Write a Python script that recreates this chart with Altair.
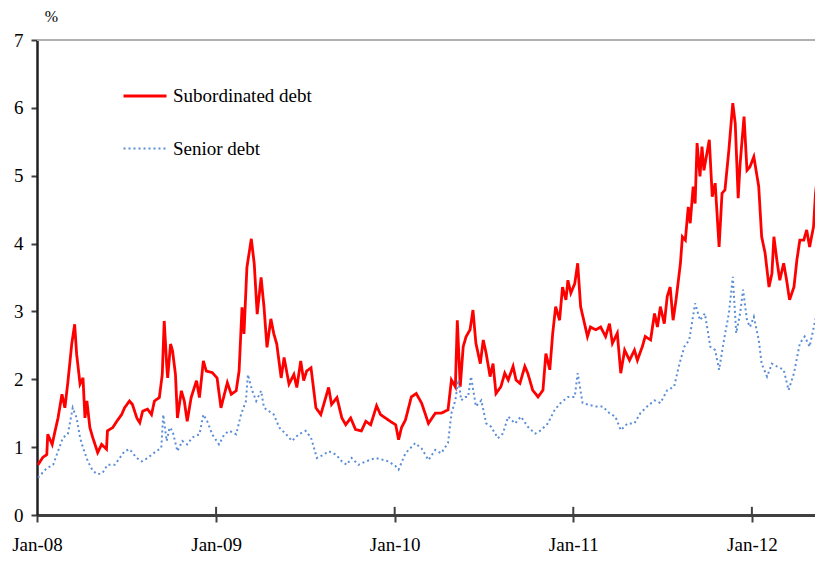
import altair as alt
import pandas as pd

# Subordinated debt: days since 2008-01-01 and spread (%)
sub_days = [2, 12, 20, 22, 31, 37, 43, 51, 57, 63, 71, 77, 81, 88, 94, 98, 102, 108, 114, 124,
            132, 142, 144, 155, 163, 173, 179, 189, 195, 204, 210, 216, 226, 234, 240, 250, 256, 260, 265, 267,
            273, 277, 283, 287, 295, 301, 307, 315, 326, 332, 340, 346, 358, 368, 376, 383, 389, 397, 407, 413,
            419, 423, 429, 438, 444, 450, 458, 464, 470, 478, 484, 490, 499, 505, 515, 525, 531, 539, 545, 551,
            560, 570, 580, 590, 596, 602, 613, 623, 631, 641, 651, 663, 672, 682, 694, 702, 712, 722, 733, 739,
            745, 753, 765, 775, 786, 800, 814, 826, 840, 847, 855, 859, 865, 871, 877, 885, 891, 897, 906, 912,
            918, 926, 932, 938, 948, 956, 963, 973, 979, 987, 997, 1003, 1013, 1024, 1034, 1040, 1048, 1054, 1060, 1068,
            1074, 1081, 1085, 1091, 1099, 1105, 1111, 1119, 1125, 1131, 1142, 1152, 1162, 1170, 1176, 1186, 1193, 1201, 1211, 1221,
            1227, 1237, 1243, 1254, 1262, 1268, 1274, 1282, 1288, 1294, 1300, 1306, 1315, 1319, 1325, 1331, 1335, 1341, 1345, 1349,
            1355, 1359, 1363, 1374, 1380, 1386, 1394, 1400, 1406, 1414, 1422, 1427, 1433, 1437, 1445, 1451, 1457, 1465, 1475, 1481,
            1488, 1496, 1502, 1506, 1512, 1518, 1526, 1532, 1538, 1547, 1553, 1559, 1567, 1573, 1579, 1587, 1591, 1597]
sub_vals = [0.74, 0.85, 0.89, 1.19, 1.04, 1.24, 1.43, 1.78, 1.58, 1.95, 2.52, 2.81, 2.37, 1.93, 2.02, 1.43, 1.68, 1.29, 1.14, 0.92,
            1.04, 0.97, 1.24, 1.29, 1.38, 1.48, 1.58, 1.68, 1.63, 1.43, 1.36, 1.53, 1.56, 1.48, 1.68, 1.73, 2.07, 2.86, 2.22, 2.02,
            2.52, 2.42, 2.07, 1.43, 1.83, 1.68, 1.38, 1.73, 1.98, 1.73, 2.27, 2.12, 2.10, 2.02, 1.58, 1.78, 1.95, 1.78, 1.83, 2.12,
            3.06, 2.67, 3.65, 4.07, 3.70, 2.96, 3.50, 3.06, 2.47, 2.89, 2.67, 2.52, 2.02, 2.32, 1.93, 2.07, 1.88, 2.27, 1.98, 2.12,
            2.17, 1.58, 1.48, 1.73, 1.88, 1.63, 1.73, 1.43, 1.33, 1.43, 1.26, 1.24, 1.38, 1.33, 1.61, 1.48, 1.43, 1.38, 1.33, 1.11,
            1.29, 1.40, 1.74, 1.79, 1.65, 1.35, 1.50, 1.50, 1.55, 1.99, 1.89, 2.87, 1.89, 2.48, 2.63, 2.73, 3.02, 2.53, 2.23, 2.58,
            2.38, 2.04, 2.23, 1.79, 1.89, 2.09, 1.99, 2.19, 1.99, 1.94, 2.19, 2.09, 1.84, 1.74, 1.84, 2.38, 2.14, 2.68, 3.07, 2.87,
            3.36, 3.17, 3.46, 3.27, 3.41, 3.71, 3.07, 2.82, 2.63, 2.77, 2.73, 2.77, 2.63, 2.82, 2.53, 2.68, 2.09, 2.43, 2.28, 2.43,
            2.28, 2.48, 2.63, 2.58, 2.97, 2.77, 3.07, 2.82, 3.22, 3.36, 2.87, 3.17, 3.71, 4.10, 4.05, 4.54, 4.30, 4.84, 4.59, 5.48,
            4.99, 5.43, 5.08, 5.53, 4.69, 4.89, 3.95, 4.74, 4.79, 5.38, 6.07, 5.77, 4.67, 5.18, 5.87, 5.08, 5.13, 5.28, 4.84, 4.10,
            3.86, 3.36, 3.56, 4.10, 3.76, 3.46, 3.71, 3.46, 3.17, 3.36, 3.76, 4.05, 4.05, 4.20, 3.95, 4.25, 4.74, 5.13]

# Senior debt
sen_days = [2, 20, 33, 43, 53, 63, 73, 81, 88, 94, 104, 114, 124, 134, 144, 159, 169, 179, 189, 204,
            214, 226, 240, 254, 258, 265, 271, 277, 287, 297, 307, 317, 332, 340, 348, 358, 372, 383, 393, 407,
            417, 427, 431, 440, 448, 458, 464, 474, 484, 495, 509, 521, 535, 549, 560, 572, 586, 596, 611, 623,
            633, 643, 657, 672, 692, 704, 718, 733, 739, 753, 773, 786, 800, 814, 826, 840, 847, 855, 861, 867,
            875, 881, 887, 897, 908, 918, 928, 942, 952, 963, 977, 989, 1003, 1018, 1030, 1044, 1058, 1070, 1085, 1099,
            1105, 1115, 1129, 1142, 1156, 1170, 1182, 1193, 1207, 1221, 1233, 1247, 1262, 1274, 1288, 1302, 1313, 1323, 1333, 1345,
            1355, 1365, 1376, 1386, 1394, 1404, 1414, 1422, 1429, 1437, 1443, 1451, 1457, 1465, 1475, 1481, 1492, 1502, 1512, 1526,
            1536, 1547, 1559, 1569, 1579, 1589, 1597]
sen_vals = [0.55, 0.69, 0.74, 0.94, 1.14, 1.19, 1.58, 1.43, 1.14, 0.99, 0.79, 0.65, 0.60, 0.62, 0.74, 0.74, 0.84, 0.94, 0.97, 0.84,
            0.79, 0.84, 0.92, 0.99, 1.48, 1.09, 1.29, 1.24, 0.94, 1.09, 1.04, 1.14, 1.19, 1.48, 1.38, 1.19, 1.04, 1.19, 1.24, 1.19,
            1.48, 1.68, 2.07, 1.83, 1.68, 1.83, 1.58, 1.53, 1.48, 1.29, 1.19, 1.09, 1.19, 1.24, 1.14, 0.84, 0.89, 0.94, 0.89, 0.79,
            0.74, 0.84, 0.74, 0.79, 0.84, 0.82, 0.79, 0.72, 0.67, 0.91, 1.06, 0.98, 0.81, 0.96, 0.91, 1.06, 1.50, 1.69, 1.99, 1.69,
            1.74, 1.74, 2.04, 1.60, 1.69, 1.35, 1.30, 1.13, 1.20, 1.45, 1.35, 1.45, 1.30, 1.20, 1.25, 1.35, 1.55, 1.65, 1.74, 1.74,
            2.09, 1.65, 1.62, 1.60, 1.60, 1.50, 1.45, 1.25, 1.35, 1.35, 1.50, 1.60, 1.69, 1.65, 1.84, 1.89, 2.23, 2.48, 2.58, 3.12,
            2.87, 2.97, 2.48, 2.43, 2.14, 2.58, 2.97, 3.51, 2.68, 2.97, 3.32, 2.87, 2.77, 2.92, 2.58, 2.23, 2.04, 2.23, 2.19, 2.14,
            1.84, 2.09, 2.53, 2.63, 2.48, 2.82, 3.07]

series_names = ["Subordinated debt", "Senior debt"]
series_colors = ["#FF0000", "#5B8ED6"]
y_ticks = [0, 1, 2, 3, 4, 5, 6, 7]
x_tick_years = [2008, 2009, 2010, 2011, 2012]

base = pd.Timestamp("2008-01-01")
df = pd.concat([
    pd.DataFrame({"date": base + pd.to_timedelta(sub_days, unit="D"), "value": sub_vals, "series": series_names[0]}),
    pd.DataFrame({"date": base + pd.to_timedelta(sen_days, unit="D"), "value": sen_vals, "series": series_names[1]}),
], ignore_index=True)

FONT = "Liberation Serif"
x_scale = alt.Scale(domain=[alt.DateTime(year=2008, month=1, date=1), alt.DateTime(year=2012, month=5, date=9)])
y_scale = alt.Scale(domain=[0, 7], nice=False)
year_ticks = [alt.DateTime(year=y, month=1, date=1) for y in x_tick_years]

legend = alt.Legend(title=None, orient="none", legendX=85, legendY=33, symbolType="stroke",
                    symbolSize=1849, symbolStrokeWidth=2.8, rowPadding=20, labelOffset=5,
                    labelFont=FONT, labelFontSize=19, labelColor="#000000", padding=0)

lines = alt.Chart(df).mark_line(clip=True, strokeCap="butt").encode(
    x=alt.X("date:T", scale=x_scale,
            axis=alt.Axis(values=year_ticks, format="%b-%y", title=None, grid=False, labelFlush=False,
                          domainColor="#404040", domainWidth=3, tickColor="#404040", tickWidth=2, tickSize=7,
                          labelFont=FONT, labelFontSize=19, labelColor="#000000", labelPadding=13)),
    y=alt.Y("value:Q", scale=y_scale,
            axis=alt.Axis(values=y_ticks, format="d", title="%", titleAngle=0, titleX=14, titleY=-24,
                          titleAlign="center", titleBaseline="middle", titleFont=FONT, titleFontSize=16,
                          titleFontWeight="normal", titleColor="#000000", grid=False, labelFlush=False,
                          domainColor="#202020", domainWidth=2.5, tickColor="#404040", tickWidth=2, tickSize=6,
                          labelFont=FONT, labelFontSize=19, labelColor="#000000", labelPadding=8)),
    color=alt.Color("series:N", scale=alt.Scale(domain=series_names, range=series_colors), legend=legend),
    strokeDash=alt.StrokeDash("series:N", scale=alt.Scale(domain=series_names, range=[[1, 0], [2, 3]]), legend=legend),
    strokeWidth=alt.StrokeWidth("series:N", scale=alt.Scale(domain=series_names, range=[2.8, 2.0]), legend=None),
)

top_line = alt.Chart(pd.DataFrame({"v": [7]})).mark_rule(color="#B0B0B0", strokeWidth=2).encode(
    y=alt.Y("v:Q", scale=y_scale))

tick_df = pd.DataFrame({"date": [pd.Timestamp(f"{y}-01-01") for y in x_tick_years[1:]],
                        "lo": [0.0] * 4, "hi": [0.12] * 4})
up_ticks = alt.Chart(tick_df).mark_rule(color="#404040", strokeWidth=2).encode(
    x=alt.X("date:T", scale=x_scale), y=alt.Y("lo:Q", scale=y_scale), y2="hi:Q")

chart = alt.layer(top_line, lines, up_ticks).properties(
    width=778, height=475,
    autosize=alt.AutoSizeParams(type="none"),
    padding={"left": 29, "top": 32, "right": 0, "bottom": 40},
).configure_view(stroke=None).configure(background="white")

chart.save("out.html", embed_options={"renderer": "svg", "actions": False})
